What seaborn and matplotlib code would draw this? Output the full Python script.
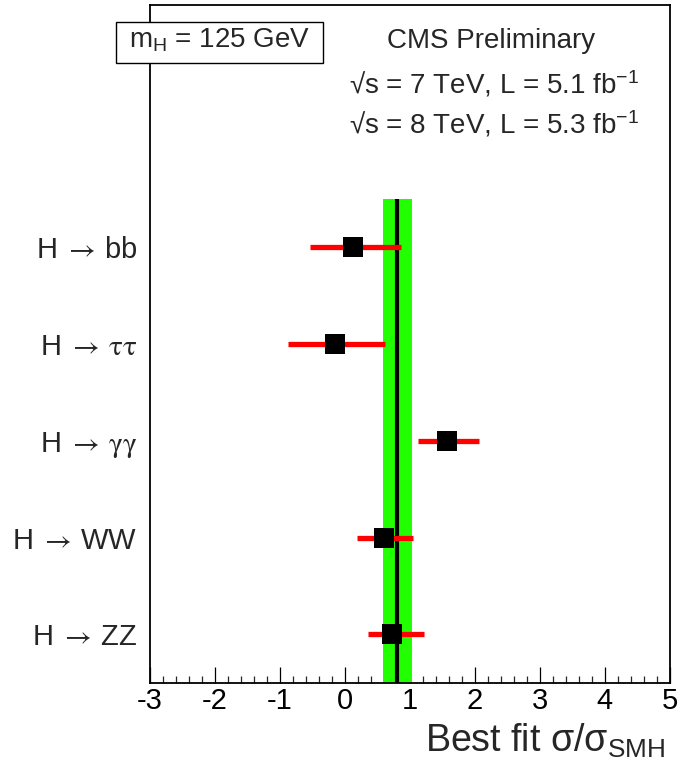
import matplotlib
matplotlib.use("Agg")
import matplotlib.pyplot as plt
from matplotlib.ticker import MultipleLocator
from matplotlib.patches import Rectangle
import seaborn as sns
import pandas as pd

channels = [r"H$\;\mathsf{\rightarrow}\,$bb", r"H$\;\mathsf{\rightarrow}\,\mathsf{\tau\tau}$",
            r"H$\;\mathsf{\rightarrow}\,\mathsf{\gamma\gamma}$", r"H$\;\mathsf{\rightarrow}\,$WW",
            r"H$\;\mathsf{\rightarrow}\,$ZZ"]
best_fit = [0.13, -0.15, 1.57, 0.60, 0.72]
err_low = [-0.53, -0.88, 1.12, 0.18, 0.36]
err_high = [0.87, 0.61, 2.07, 1.05, 1.22]
y_pos = [4.5, 3.5, 2.5, 1.5, 0.5]
combined = 0.80
combined_low = 0.59
combined_high = 1.03
x_ticks = [-3, -2, -1, 0, 1, 2, 3, 4, 5]

sns.set_theme(style="white")
plt.rcParams["font.family"] = ["Liberation Sans", "DejaVu Sans"]
plt.rcParams["mathtext.fontset"] = "custom"
plt.rcParams["mathtext.rm"] = "Liberation Sans"
plt.rcParams["mathtext.it"] = "Liberation Sans:italic"
plt.rcParams["mathtext.sf"] = "STIXGeneral"

df = pd.DataFrame({"channel": channels, "fit": best_fit, "lo": err_low,
                   "hi": err_high, "y": y_pos})

fig = plt.figure(figsize=(6.82, 7.63), dpi=100)
ax = fig.add_axes([0.220, 0.105, 0.762, 0.888])

ax.axvspan(combined_low, combined_high, ymin=0, ymax=5 / 7.0, color="#22ff00", zorder=1, lw=0)
ax.vlines(combined, 0, 5, color="black", lw=3, zorder=2)
ax.hlines(df["y"], df["lo"], df["hi"], color="#ff0000", lw=3.8, zorder=3)
sns.scatterplot(data=df, x="fit", y="y", marker="s", s=200, color="black",
                edgecolor="black", linewidth=0, ax=ax, zorder=4, legend=False)

ax.set_xlim(-3, 5)
ax.set_ylim(0, 7)
ax.set_xticks(x_ticks)
ax.set_xticklabels([str(t) for t in x_ticks], fontsize=21)
ax.xaxis.set_minor_locator(MultipleLocator(0.2))
ax.tick_params(axis="x", which="major", direction="in", length=11.5, width=0.9,
               bottom=True, top=False, pad=3, colors="black")
ax.tick_params(axis="x", which="minor", direction="in", length=5, width=0.9,
               bottom=True, top=False)
ax.set_yticks(y_pos)
ax.set_yticklabels(channels, fontsize=21)
ax.tick_params(axis="y", length=0, pad=9)
for sp in ax.spines.values():
    sp.set_visible(True)
    sp.set_color("black")
    sp.set_linewidth(1.3)

ax.set_xlabel("")
ax.set_ylabel("")
fig.text(0.975, 0.015, r"Best fit σ/σ$_{\mathrm{SMH}}$", ha="right", va="baseline", fontsize=27)

ax.text(0.656, 0.937, "CMS Preliminary", transform=ax.transAxes, ha="center",
        va="baseline", fontsize=20)
ax.text(0.662, 0.870, r"√s = 7 TeV, L = 5.1 fb$^{\mathrm{-1}}$", transform=ax.transAxes,
        ha="center", va="baseline", fontsize=20)
ax.text(0.662, 0.811, r"√s = 8 TeV, L = 5.3 fb$^{\mathrm{-1}}$", transform=ax.transAxes,
        ha="center", va="baseline", fontsize=20)

fig.add_artist(Rectangle((116 / 682, 1 - 63 / 763), 207 / 682, 41 / 763,
                         transform=fig.transFigure, fc="white", ec="black", lw=1.0, zorder=10))
fig.text(0.322, 0.938, r"m$_{\mathrm{H}}$ = 125 GeV", ha="center", va="baseline",
         fontsize=20, zorder=11)

fig.savefig("out.png", dpi=100)
